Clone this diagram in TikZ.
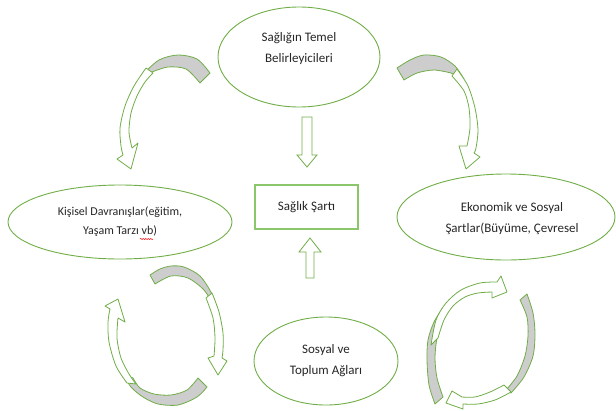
\documentclass[tikz,border=0pt]{standalone}
\usepackage{fontspec}
\setmainfont{Carlito}
\usetikzlibrary{shapes.geometric,decorations.pathmorphing}
\definecolor{grn}{HTML}{70AD47}
\definecolor{boxgrn}{HTML}{8CC66B}
\definecolor{bandgray}{HTML}{CDCDCD}
\definecolor{txt}{HTML}{262626}
\begin{document}
\begin{tikzpicture}[x=1pt,y=-1pt,
  oval/.style={draw=grn, line width=0.9pt, ellipse, inner sep=0pt, align=center,
    font=\fontsize{13}{21}\selectfont, text=txt},
  lbl/.style={align=center, font=\fontsize{13}{21}\selectfont, text=txt, inner sep=0pt},
  condbox/.style={draw=boxgrn, line width=1.6pt, inner sep=0pt, text=txt,
    font=\fontsize{13}{16}\selectfont},
  band/.style={draw=grn, line width=0.8pt, line join=round, fill=white},
  backband/.style={band, fill=bandgray},
  blockarrow/.style={draw=grn, line width=0.8pt, line join=miter, fill=white}]
\useasboundingbox (0,0) rectangle (616,410);

% nodes
\node[oval, minimum width=162pt, minimum height=100pt,
  label={[lbl, yshift=8pt]center:{Sağlığın Temel\\Belirleyicileri}}] (det) at (299,57) {};
\node[oval, minimum width=224pt, minimum height=74pt,
  font=\fontsize{12}{19}\selectfont] (pers) at (120,222) {Kişisel Davranışlar(eğitim,\\Yaşam Tarzı vb)};
\node[oval, minimum width=218pt, minimum height=86pt,
  label={[lbl, xshift=6pt, yshift=-2pt]center:{Ekonomik ve Sosyal\\Şartlar(Büyüme, Çevresel}}] (econ) at (506,217) {};
\node[oval, minimum width=144pt, minimum height=88pt] (soc) at (326,361) {Sosyal ve\\Toplum Ağları};
\node[condbox, minimum width=103pt, minimum height=44pt] (cond) at (306.5,207) {Sağlık Şartı};

% spell-check squiggle
\draw[red, line width=0.5pt, decorate, decoration={snake, segment length=2.5pt, amplitude=0.6pt}]
  (140,239) -- (153,239);

% straight block arrows
\draw[blockarrow] (302,117) -- (312,117) -- (312,155) -- (317,155) -- (307,167)
  -- (297,155) -- (302,155) -- cycle;
\draw[blockarrow] (306,278) -- (314,278) -- (314,252) -- (321,252) -- (310,238)
  -- (299,252) -- (306,252) -- cycle;

% curved arrow 1 (top left)
\draw[backband] plot[smooth] coordinates {(210,73) (197,59) (178,55) (159,60) (142,75)}
  -- plot[smooth] coordinates {(152,72) (168,67) (186,69) (200,83)} -- cycle;
\draw[band] plot[smooth] coordinates {(146,68) (134,86) (125,106) (120,128) (121,146) (123,155)}
  -- (117,159) -- (131,169) -- (138,143)
  -- plot[smooth] coordinates {(132,148) (129,132) (131,113) (137,96) (145,82) (153,73)} -- cycle;

% curved arrow 2 (top right)
\draw[backband] plot[smooth] coordinates {(397,68) (410,60) (424,55) (441,57) (455,66) (464,79)}
  -- plot[smooth] coordinates {(451,73) (434,70) (417,73) (404,80)} -- cycle;
\draw[band] plot[smooth] coordinates {(457,69) (468,86) (475,108) (478,130) (476,148) (474,153)}
  -- (480,157) -- (466,169) -- (459,146)
  -- plot[smooth] coordinates {(467,146) (470,128) (469,108) (464,91) (452,76)} -- cycle;

% curved arrows 3 (bottom left)
\draw[backband] plot[smooth] coordinates {(150,275) (160,269) (171,266) (184,267) (200,276) (212,294) (219,313)}
  -- plot[smooth] coordinates {(214,306) (204,290) (188,278) (171,276) (155,284)} -- cycle;
\draw[band] plot[smooth] coordinates {(212,293) (219,312) (223,333) (223,350) (222,358)}
  -- (227,361) -- (218,375) -- (208,358)
  -- plot[smooth] coordinates {(214,356) (215,338) (213,318) (206,298)} -- cycle;
\draw[backband] plot[smooth] coordinates {(207,387) (197,397) (178,405) (158,404) (143,397) (131,387) (123,374)}
  -- plot[smooth] coordinates {(133,378) (140,388) (154,394) (171,395) (187,390) (198,378)} -- cycle;
\draw[band] plot[smooth] coordinates {(127,383) (116,366) (109,342) (108,322) (110,309)}
  -- (105,306) -- (118,299) -- (125,322)
  -- plot[smooth] coordinates {(118,318) (117,338) (121,358) (129,374) (136,384)} -- cycle;

% curved arrows 4 (bottom right)
\draw[backband] plot[smooth] coordinates {(435,404) (429,385) (427,360) (428,340) (434,322) (444,306)}
  -- plot[smooth] coordinates {(443,318) (437,338) (435,358) (437,378) (443,397)} -- cycle;
\draw[band] plot[smooth] coordinates {(431,345) (436,320) (446,303) (461,290) (480,283) (497,282)}
  -- (501,276) -- (507,292) -- (492,298)
  -- plot[smooth] coordinates {(492,292) (478,293) (465,297) (453,306) (444,320) (438,338)} -- cycle;
\draw[backband] plot[smooth] coordinates {(527,294) (533,313) (535,334) (533,356) (524,377) (511,393)}
  -- plot[smooth] coordinates {(506,390) (517,376) (525,356) (528,336) (527,317) (520,300)} -- cycle;
\draw[band] plot[smooth] coordinates {(511,392) (495,400) (478,404) (463,404)}
  -- (463,409) -- (446,403) -- (452,391)
  -- plot[smooth] coordinates {(462,397) (475,397) (490,392) (504,385)} -- cycle;
\end{tikzpicture}
\end{document}
